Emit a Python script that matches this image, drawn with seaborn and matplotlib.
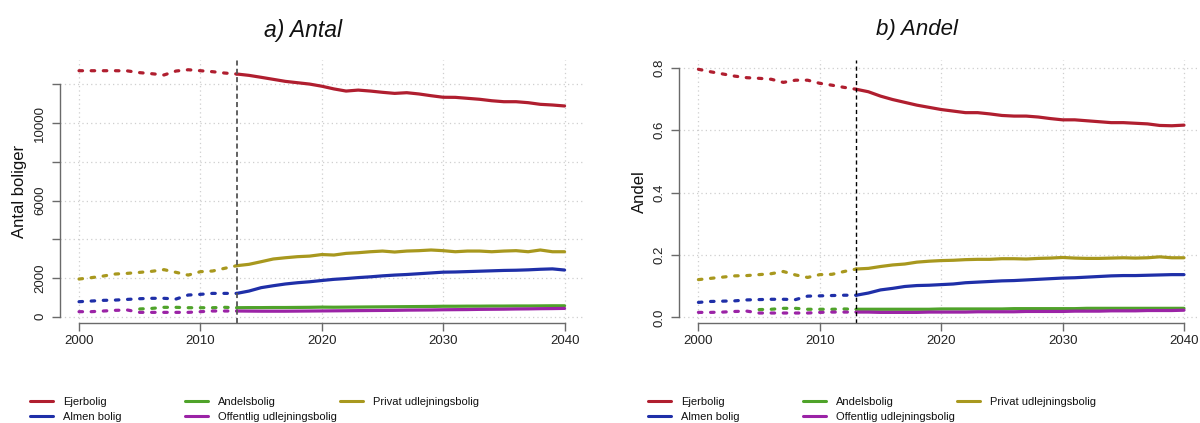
import numpy as np
import pandas as pd
import matplotlib
matplotlib.use("Agg")
import matplotlib.pyplot as plt
from matplotlib.lines import Line2D
import seaborn as sns

nan = np.nan

# ---------------------------------------------------------------- data
years = list(range(2000, 2041))
split_year = 2013  # last observed year; projection after it

series_names = ["Ejerbolig", "Almen bolig", "Andelsbolig",
                "Offentlig udlejningsbolig", "Privat udlejningsbolig"]
series_colors = ["#B01E2F", "#1F2FA8", "#4FA32A", "#9B23A6", "#A8981E"]

# number of dwellings
ejerbolig_antal = [12700, 12700, 12700, 12700, 12690, 12600, 12545, 12480, 12685, 12750,
                   12700, 12650, 12580, 12530, 12460, 12360, 12255, 12150, 12080, 12010,
                   11900, 11760, 11650, 11700, 11650, 11585, 11530, 11565, 11500, 11410,
                   11330, 11325, 11275, 11225, 11150, 11100, 11100, 11050, 10965, 10930,
                   10880]
almen_antal = [775, 810, 845, 860, 895, 930, 950, 950, 915, 1120,
               1155, 1205, 1205, 1205, 1325, 1500, 1600, 1690, 1755, 1805,
               1870, 1930, 1970, 2020, 2060, 2110, 2150, 2180, 2220, 2260,
               2300, 2310, 2330, 2350, 2370, 2390, 2400, 2420, 2450, 2470,
               2410]
andels_antal = [nan, nan, nan, nan, nan, 400, 430, 485, 485, 465,
                465, 465, 485, 465, 470, 470, 475, 475, 480, 485,
                495, 490, 495, 500, 505, 510, 515, 520, 525, 530,
                540, 540, 545, 545, 550, 550, 555, 555, 560, 565,
                565]
offentlig_antal = [260, 260, 295, 330, 345, 225, 225, 225, 225, 225,
                   260, 295, 295, 295, 290, 285, 285, 285, 290, 295,
                   300, 305, 310, 315, 320, 325, 330, 340, 345, 350,
                   360, 365, 370, 380, 385, 390, 400, 405, 415, 420,
                   430]
privat_antal = [1946, 2015, 2100, 2205, 2240, 2290, 2345, 2430, 2290, 2150,
                2325, 2360, 2500, 2635, 2705, 2840, 2980, 3045, 3100, 3130,
                3210, 3185, 3270, 3305, 3355, 3390, 3340, 3390, 3410, 3445,
                3410, 3355, 3390, 3390, 3355, 3390, 3410, 3355, 3445, 3355,
                3355]

# share of all dwellings
ejerbolig_andel = [0.795, 0.787, 0.780, 0.773, 0.768, 0.766, 0.763, 0.753, 0.760, 0.760,
                   0.750, 0.744, 0.737, 0.731, 0.723, 0.709, 0.698, 0.689, 0.680, 0.673,
                   0.666, 0.661, 0.656, 0.656, 0.652, 0.647, 0.645, 0.645, 0.642, 0.637,
                   0.633, 0.633, 0.630, 0.627, 0.624, 0.624, 0.622, 0.620, 0.615, 0.614,
                   0.616]
almen_andel = [0.048, 0.051, 0.052, 0.053, 0.056, 0.057, 0.058, 0.058, 0.057, 0.068,
               0.069, 0.070, 0.071, 0.071, 0.078, 0.088, 0.093, 0.099, 0.102, 0.103,
               0.105, 0.107, 0.111, 0.113, 0.115, 0.117, 0.118, 0.120, 0.122, 0.124,
               0.126, 0.127, 0.129, 0.131, 0.133, 0.134, 0.134, 0.135, 0.136, 0.137,
               0.137]
andels_andel = [nan, nan, nan, nan, nan, 0.025, 0.026, 0.029, 0.029, 0.026,
                0.026, 0.026, 0.027, 0.026, 0.026, 0.026, 0.026, 0.026, 0.026, 0.026,
                0.027, 0.027, 0.027, 0.027, 0.027, 0.027, 0.028, 0.028, 0.028, 0.028,
                0.028, 0.028, 0.029, 0.029, 0.029, 0.029, 0.029, 0.029, 0.029, 0.029,
                0.029]
offentlig_andel = [0.016, 0.016, 0.017, 0.019, 0.020, 0.014, 0.014, 0.014, 0.014, 0.014,
                   0.016, 0.017, 0.017, 0.017, 0.017, 0.016, 0.016, 0.016, 0.016, 0.017,
                   0.017, 0.017, 0.017, 0.018, 0.018, 0.018, 0.018, 0.019, 0.019, 0.019,
                   0.019, 0.020, 0.020, 0.020, 0.021, 0.021, 0.021, 0.022, 0.022, 0.022,
                   0.023]
privat_andel = [0.121, 0.125, 0.129, 0.133, 0.134, 0.137, 0.140, 0.147, 0.136, 0.128,
                0.137, 0.138, 0.147, 0.155, 0.157, 0.163, 0.168, 0.171, 0.177, 0.180,
                0.182, 0.183, 0.185, 0.186, 0.186, 0.188, 0.188, 0.187, 0.189, 0.190,
                0.192, 0.190, 0.189, 0.189, 0.190, 0.191, 0.190, 0.191, 0.194, 0.191,
                0.191]

x_ticks = [2000, 2010, 2020, 2030, 2040]
antal_ticks = [0, 2000, 4000, 6000, 8000, 10000, 12000]
antal_tick_labels = ["0", "2000", "", "6000", "", "10000", ""]
andel_ticks = [0.0, 0.2, 0.4, 0.6, 0.8]
andel_tick_labels = ["0.0", "0.2", "0.4", "0.6", "0.8"]


def long_frame(columns):
    parts = []
    for name, vals in zip(series_names, columns):
        parts.append(pd.DataFrame({"year": years, "series": name, "value": vals}))
    df = pd.concat(parts, ignore_index=True).dropna()
    return df


antal_df = long_frame([ejerbolig_antal, almen_antal, andels_antal,
                       offentlig_antal, privat_antal])
andel_df = long_frame([ejerbolig_andel, almen_andel, andels_andel,
                       offentlig_andel, privat_andel])

# ---------------------------------------------------------------- style
sns.set_theme(style="white")
plt.rcParams["font.family"] = ["Liberation Sans", "DejaVu Sans"]

W, H = 1200, 423
fig = plt.figure(figsize=(W / 100, H / 100), dpi=100)


def px_axes(x0, x1, y_top, y_bot):
    return fig.add_axes([x0 / W, 1 - y_bot / H, (x1 - x0) / W, (y_bot - y_top) / H])


ax_a = px_axes(59.6, 584.0, 59.6, 323.0)
ax_b = px_axes(679.0, 1203.4, 59.6, 323.0)

line_w = 2.3
grid_kw = dict(color="#CFCFCF", linewidth=0.9, linestyle=(0, (1, 2.5)))


def draw_panel(ax, df, yticks, ylabels, ylim, ylabel, vline_kw):
    ax.set_axisbelow(True)
    ax.grid(True, **grid_kw)
    hist = df[df["year"] <= split_year]
    proj = df[df["year"] >= split_year]
    sns.lineplot(data=hist, x="year", y="value", hue="series",
                 hue_order=series_names, palette=series_colors,
                 estimator=None, sort=True, linewidth=line_w,
                 linestyle=(0, (1.1, 2.7)), dash_capstyle="round",
                 legend=False, ax=ax)
    sns.lineplot(data=proj, x="year", y="value", hue="series",
                 hue_order=series_names, palette=series_colors,
                 estimator=None, sort=True, linewidth=line_w,
                 solid_capstyle="round", legend=False, ax=ax)
    ax.axvline(split_year, **vline_kw)

    ax.set_xlim(1998.4, 2041.6)
    ax.set_ylim(*ylim)
    ax.set_xticks(x_ticks)
    ax.set_xticklabels([str(t) for t in x_ticks])
    ax.set_yticks(yticks)
    ax.set_yticklabels(ylabels, rotation=90, va="center")
    ax.set_xlabel("")
    ax.set_ylabel(ylabel, fontsize=12, color="#111111")
    ax.yaxis.set_label_coords(-0.062, 0.5)

    for side in ("top", "right"):
        ax.spines[side].set_visible(False)
    for side in ("left", "bottom"):
        ax.spines[side].set_color("#6A6A6A")
        ax.spines[side].set_linewidth(1.0)
    ax.spines["left"].set_bounds(yticks[0], yticks[-1])
    ax.spines["bottom"].set_bounds(x_ticks[0], x_ticks[-1])

    ax.tick_params(axis="both", which="major", direction="out", length=5.5,
                   width=1.0, color="#6A6A6A", labelsize=9.5,
                   labelcolor="#222222", bottom=True, left=True)
    ax.tick_params(axis="x", pad=3)
    ax.tick_params(axis="y", pad=4)


draw_panel(ax_a, antal_df, antal_ticks, antal_tick_labels, (-324, 13274),
           "Antal boliger",
           dict(color="#555555", linewidth=1.3, linestyle=(0, (2.8, 1.8))))
draw_panel(ax_b, andel_df, andel_ticks, andel_tick_labels, (-0.018, 0.826),
           "Andel",
           dict(color="#000000", linewidth=1.0, linestyle=(0, (3.0, 2.2))))

# titles
fig.text(303 / W, 1 - 30 / H, "a) Antal", fontsize=16.5, style="italic",
         ha="center", va="center", color="#111111")
fig.text(917 / W, 1 - 30 / H, "b) Andel", fontsize=16, style="italic",
         ha="center", va="center", color="#111111")

# legends: three fixed-position columns under each panel
handles = [Line2D([0], [0], color=c, linewidth=2.2) for c in series_colors]
columns = [[0, 1], [2, 3], [4]]
legend_kw = dict(loc="upper left", frameon=False, fontsize=8,
                 handlelength=2.1, handletextpad=0.9, labelspacing=0.48,
                 borderpad=0, borderaxespad=0, labelcolor="#111111")
for col_x in ([30, 185, 340], [648, 803, 957]):
    for x, idx in zip(col_x, columns):
        fig.legend([handles[i] for i in idx], [series_names[i] for i in idx],
                   bbox_to_anchor=(x / W, 1 - 396.5 / H), **legend_kw)

fig.savefig("out.png", dpi=100, facecolor="white")
